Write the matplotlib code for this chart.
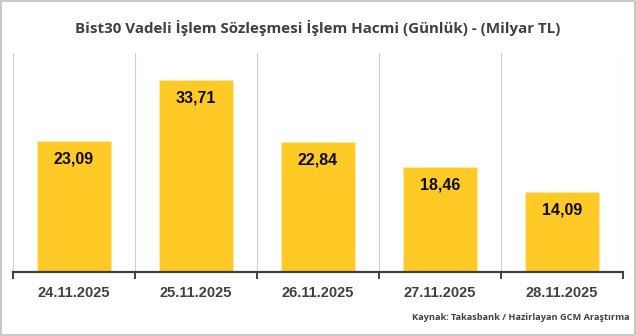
import matplotlib

matplotlib.use("Agg")
import matplotlib.pyplot as plt
import numpy as np

dates = ["24.11.2025", "25.11.2025", "26.11.2025", "27.11.2025", "28.11.2025"]
volumes = [23.09, 33.71, 22.84, 18.46, 14.09]
title = "Bist30 Vadeli İşlem Sözleşmesi İşlem Hacmi (Günlük) - (Milyar TL)"
source = "Kaynak: Takasbank / Hazirlayan GCM Araştırma"

fig = plt.figure(figsize=(6.36, 3.36), dpi=100)
ax = fig.add_axes([13 / 636, 1 - 272 / 336, 610 / 636, 219 / 336])

x = np.arange(len(dates))
ax.bar(x, volumes, width=0.6, color="#FFC926", edgecolor="#FFE9A8", linewidth=0.6, zorder=2)

ax.set_xlim(-0.5, len(dates) - 0.5)
ax.set_ylim(0, 38.5)

# vertical separators between categories
for b in np.arange(-0.5, len(dates), 1.0):
    ax.axvline(b, color="#CFCFCF", lw=0.8, zorder=1)

for xi, v in zip(x, volumes):
    ax.annotate(f"{v:.2f}".replace(".", ","), (xi, v), xytext=(0, -13), textcoords="offset points",
                ha="center", va="center", fontsize=11.5, fontweight="bold", color="#0d0d0d",
                family="Liberation Sans", zorder=3)

for s in ["top", "left", "right"]:
    ax.spines[s].set_visible(False)
ax.spines["bottom"].set_color("#404040")
ax.spines["bottom"].set_linewidth(1.6)
ax.set_yticks([])
ax.set_xticks(np.arange(-0.5, len(dates), 1.0), minor=False)
ax.set_xticklabels([])
ax.tick_params(axis="x", length=5, width=1.4, color="#404040", direction="out")
ax.set_xticks(x, minor=True)
ax.set_xticklabels(dates, minor=True, fontsize=10.5, fontweight="bold", color="#404040",
                   family="Liberation Sans")
ax.tick_params(axis="x", which="minor", length=0, pad=10)

fig.text(0.5, 1 - 33 / 336, title, ha="center", va="baseline", fontsize=10.9, fontweight="bold",
         color="#404040", family="Open Sans")
fig.text(630 / 636, 1 - 318 / 336, source, ha="right", va="center", fontsize=6.6, fontweight="bold",
         color="#404040", family="Open Sans")

fig.patches.append(plt.Rectangle((0.001, 0.002), 0.997, 0.995, transform=fig.transFigure,
                                 fill=False, edgecolor="#BFBFBF", lw=1.2))

fig.savefig("out.png", dpi=100)
